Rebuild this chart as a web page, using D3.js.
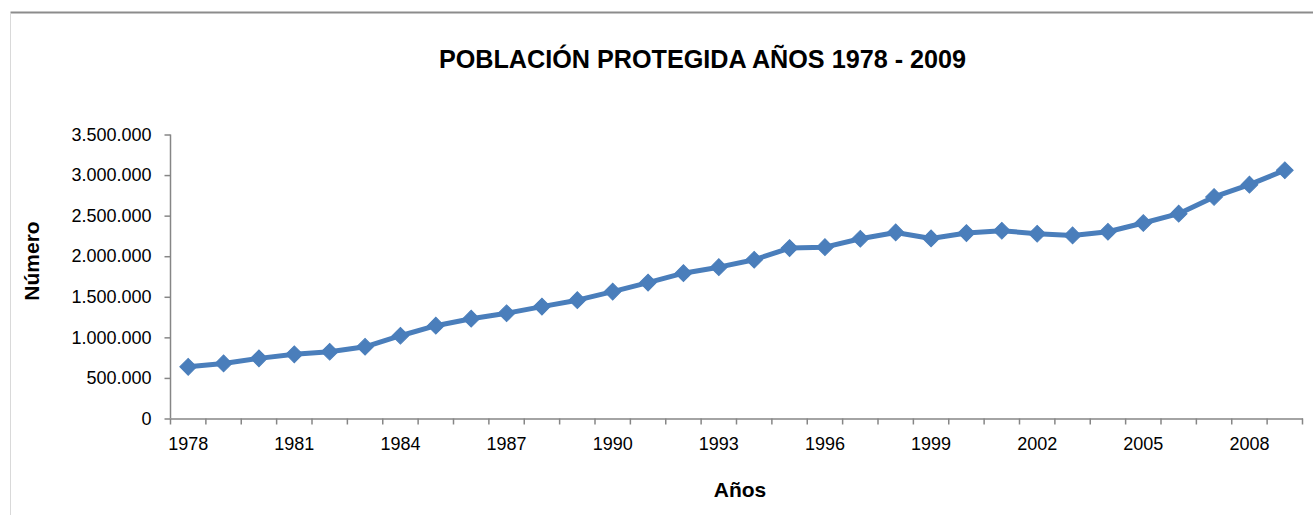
<!DOCTYPE html>
<html>
<head>
<meta charset="utf-8">
<script src="https://cdn.jsdelivr.net/npm/d3@7"></script>
<style>
  body { margin: 0; background: #fff; }
  svg { display: block; font-family: "Liberation Sans", Arial, sans-serif; }
</style>
</head>
<body>
<svg width="1313" height="515"></svg>
<script>
// Chart data
const years = d3.range(1978, 2010);
const poblacion = [
    637000, 679000, 741000, 791000, 823000, 884000, 1020000, 1144000,
    1230000, 1297000, 1379000, 1458000, 1564000, 1675000, 1791000, 1865000,
    1956000, 2100000, 2112000, 2215000, 2293000, 2219000, 2285000, 2314000,
    2277000, 2256000, 2301000, 2409000, 2524000, 2730000, 2882000, 3059000
];
const yTicks = [0, 500000, 1000000, 1500000, 2000000, 2500000, 3000000, 3500000];
const xLabels = [1978, 1981, 1984, 1987, 1990, 1993, 1996, 1999, 2002, 2005, 2008];

const data = years.map((y, i) => ({ year: y, value: poblacion[i] }));

const svg = d3.select("svg");
const axisColor = "#868686";
const lineColor = "#4a7ebb";

// Chart area border (top + left edge visible)
svg.append("line")
    .attr("x1", 10.5).attr("x2", 1313)
    .attr("y1", 12.5).attr("y2", 12.5)
    .attr("stroke", "#8c8c8c").attr("stroke-width", 2);
svg.append("line")
    .attr("x1", 10.5).attr("x2", 10.5)
    .attr("y1", 13).attr("y2", 515)
    .attr("stroke", "#d9d9d9").attr("stroke-width", 1);

// Scales
const x = d3.scaleBand()
    .domain(years)
    .range([170.5, 1302.5]);

const y = d3.scaleLinear()
    .domain([0, 3500000])
    .range([418.5, 134.5]);

const es = d3.formatLocale({ decimal: ",", thousands: ".", grouping: [3], currency: ["", "€"] });
const fmt = es.format(",d");

// Y axis
const yAxis = svg.append("g")
    .attr("transform", "translate(170.5,0)")
    .call(d3.axisLeft(y).tickValues(yTicks).tickSize(6).tickPadding(13).tickFormat(fmt));
yAxis.selectAll("path, line").attr("stroke", axisColor).attr("stroke-width", 1.5);
yAxis.select(".domain").attr("d", "M0," + y(3500000) + "V" + y(0));
yAxis.selectAll("text")
    .attr("fill", "#000")
    .style("font-size", "18px")
    .style("font-family", "'Liberation Sans', Arial, sans-serif");

// X axis (labels centred on categories, tick marks between categories)
const xAxis = svg.append("g")
    .attr("transform", "translate(0," + y(0) + ")")
    .call(d3.axisBottom(x).tickValues(xLabels).tickSize(0).tickPadding(19));
xAxis.select(".domain").attr("stroke", axisColor).attr("stroke-width", 1.5);
xAxis.selectAll("text")
    .attr("fill", "#000")
    .style("font-size", "18px")
    .style("font-family", "'Liberation Sans', Arial, sans-serif");

const boundaries = years.map(d => x(d)).concat([x.range()[1]]);
xAxis.selectAll(".bound")
    .data(boundaries)
    .enter().append("line")
    .attr("class", "bound")
    .attr("x1", d => d).attr("x2", d => d)
    .attr("y1", 0).attr("y2", 6)
    .attr("stroke", axisColor).attr("stroke-width", 1.5);

// Line
const line = d3.line()
    .x(d => x(d.year) + x.bandwidth() / 2)
    .y(d => y(d.value));

svg.append("path")
    .datum(data)
    .attr("fill", "none")
    .attr("stroke", lineColor)
    .attr("stroke-width", 5)
    .attr("stroke-linejoin", "round")
    .attr("d", line);

// Diamond markers
const diamond = d3.symbol().type(d3.symbolSquare).size(140);
svg.selectAll(".marker")
    .data(data)
    .enter().append("path")
    .attr("class", "marker")
    .attr("d", diamond)
    .attr("fill", lineColor)
    .attr("stroke", "#4a7ebb")
    .attr("stroke-width", 1)
    .attr("transform", d => "translate(" + (x(d.year) + x.bandwidth() / 2) + "," + y(d.value) + ") rotate(45)");

// Title
svg.append("text")
    .attr("x", 702.5)
    .attr("y", 68)
    .attr("text-anchor", "middle")
    .style("font-size", "25.2px")
    .style("font-weight", "bold")
    .text("POBLACIÓN PROTEGIDA AÑOS 1978 - 2009");

// Axis titles
svg.append("text")
    .attr("x", 740)
    .attr("y", 497)
    .attr("text-anchor", "middle")
    .style("font-size", "21px")
    .style("font-weight", "bold")
    .text("Años");

svg.append("text")
    .attr("transform", "translate(39,261) rotate(-90)")
    .attr("text-anchor", "middle")
    .style("font-size", "21px")
    .style("font-weight", "bold")
    .text("Número");
</script>
</body>
</html>
